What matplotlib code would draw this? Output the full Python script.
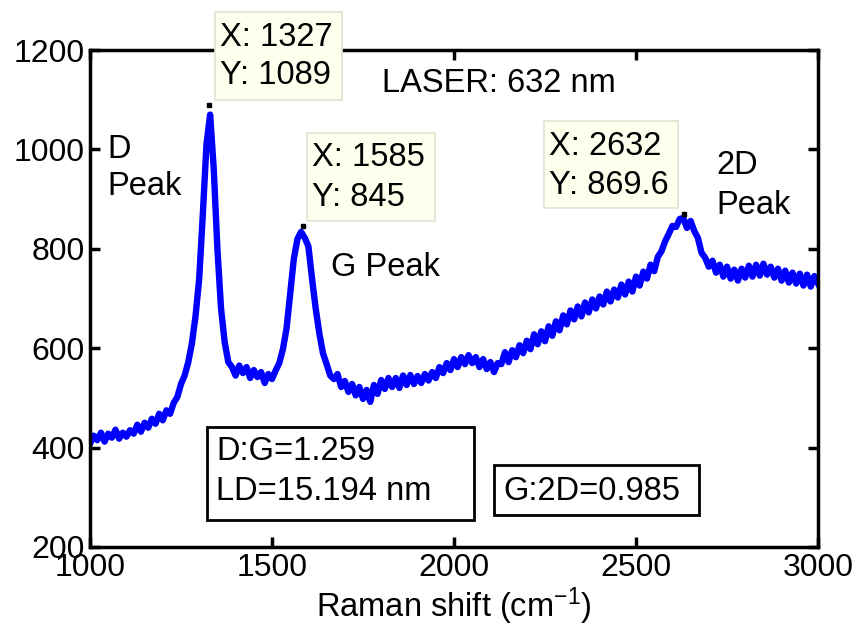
import numpy as np
import matplotlib
matplotlib.use("Agg")
import matplotlib.pyplot as plt
from matplotlib.patches import Rectangle

plt.rcParams['font.family'] = ['Liberation Sans', 'DejaVu Sans']
plt.rcParams['mathtext.default'] = 'regular'

# ---- data ----
raman_shift = np.arange(1000, 3001, 10)
intensity = [
    408, 424, 415, 430, 412, 428, 420, 436, 418, 430,      # 1000
    422, 435, 428, 446, 432, 450, 440, 458, 448, 468,      # 1100
    455, 475, 468, 490, 502, 528, 545, 572, 610, 665,      # 1200
    740, 870, 1010, 1070, 960, 800, 680, 612, 572, 562,    # 1300
    545, 565, 550, 562, 540, 556, 542, 552, 530, 548,      # 1400
    538, 555, 570, 598, 640, 710, 780, 820, 834, 822,      # 1500
    805, 740, 680, 630, 590, 568, 545, 538, 548, 522,      # 1600
    534, 512, 528, 505, 522, 498, 516, 492, 526, 508,      # 1700
    536, 518, 540, 522, 540, 520, 545, 526, 546, 528,      # 1800
    544, 530, 548, 535, 552, 540, 562, 550, 570, 556,      # 1900
    578, 562, 582, 568, 586, 570, 582, 562, 578, 558,      # 2000
    572, 552, 570, 568, 592, 572, 596, 582, 606, 590,      # 2100
    615, 598, 628, 608, 634, 614, 644, 625, 654, 636,      # 2200
    666, 648, 676, 658, 684, 664, 692, 672, 698, 680,      # 2300
    704, 688, 714, 694, 718, 702, 728, 708, 734, 714,      # 2400
    744, 726, 754, 740, 768, 755, 784, 795, 815, 830,      # 2500
    846, 844, 860, 862, 842, 856, 836, 822, 792, 782,      # 2600
    764, 776, 752, 768, 744, 764, 740, 758, 736, 760,      # 2700
    742, 766, 744, 768, 746, 770, 748, 764, 742, 760,      # 2800
    736, 756, 732, 752, 730, 750, 726, 748, 724, 745,      # 2900
    730,                                                   # 3000
]
tip_x = [1327, 1585, 2632]
tip_y = [1089, 845, 869.6]
tip_labels = [("X: 1327", "Y: 1089"), ("X: 1585", "Y: 845"), ("X: 2632", "Y: 869.6")]
x_ticks = [1000, 1500, 2000, 2500, 3000]
y_ticks = [200, 400, 600, 800, 1000, 1200]

W, H = 859, 630
fig = plt.figure(figsize=(W / 100, H / 100), dpi=100)
ax = fig.add_axes([90 / W, 1 - 547 / H, (818 - 90) / W, (547 - 50) / H])

ax.plot(raman_shift, intensity, color='#0000FF', lw=4.6, solid_joinstyle='round')
ax.plot(tip_x, tip_y, 's', color='black', ms=3.5, zorder=5)

ax.set_xlim(1000, 3000)
ax.set_ylim(200, 1200)
ax.set_xticks(x_ticks)
ax.set_yticks(y_ticks)
ax.tick_params(direction='in', length=7, width=2.5, labelsize=23,
               top=True, right=True, pad=4)
for s in ax.spines.values():
    s.set_linewidth(2.5)
ax.set_xlabel('Raman shift (cm$^{-1}$)', fontsize=23.5, labelpad=2)

FS = 23.5


def fx(px):
    return px / W


def fy(py):
    return 1 - py / H


def box(x0, y0, x1, y1, fc, ec, lw):
    fig.patches.append(Rectangle((fx(x0), fy(y1)), fx(x1) - fx(x0), fy(y0) - fy(y1),
                                 transform=fig.transFigure, fc=fc, ec=ec, lw=lw, zorder=6))


def txt(px, py, s, fs=FS):
    fig.text(fx(px), fy(py), s, fontsize=fs, ha='left', va='center', zorder=7)


# data tips
tip_boxes = [(215, 12, 342, 100), (307, 133, 435, 221), (544, 121, 678, 208)]
for (x0, y0, x1, y1), (l1, l2) in zip(tip_boxes, tip_labels):
    box(x0, y0, x1, y1, '#FFFFEE', '#E2E2D2', 1.2)
    txt(x0 + 5, y0 + 25, l1)
    txt(x0 + 5, y0 + 64, l2)

# annotations
txt(107, 149, 'D')
txt(107, 186, 'Peak')
txt(331, 267, 'G Peak')
txt(382, 83, 'LASER: 632 nm')
txt(716, 165, '2D')
txt(716, 206, 'Peak')

box(207, 427, 474, 520, 'white', 'black', 2.0)
txt(216, 452, 'D:G=1.259')
txt(216, 491, 'LD=15.194 nm')
box(494, 465, 699, 515, 'white', 'black', 2.0)
txt(503, 491, 'G:2D=0.985')

fig.savefig('out.png', dpi=100)
